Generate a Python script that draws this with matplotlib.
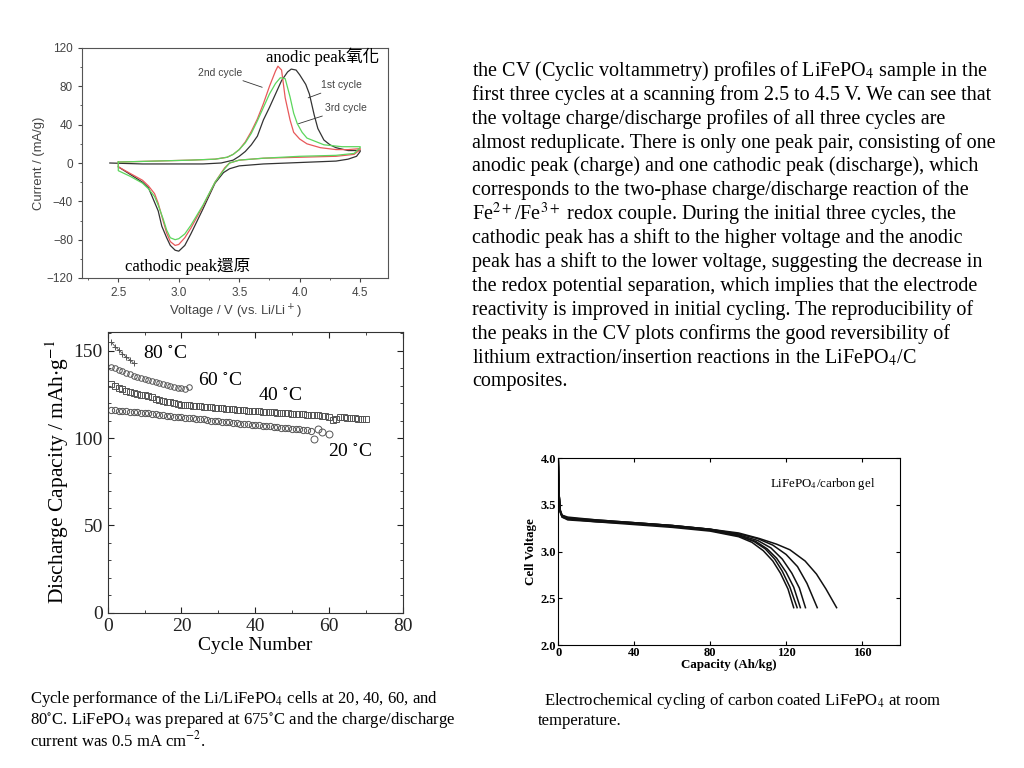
import matplotlib
matplotlib.use('Agg')
import matplotlib.pyplot as plt
from matplotlib.ticker import MultipleLocator

plt.rcParams['font.family'] = ['Liberation Serif', 'Noto Sans CJK TC']
plt.rcParams['mathtext.fontset'] = 'stix'

# ---------------- CV data (Voltage V, Current mA/g) ----------------
cv1_fwd_v = [2.43, 2.7, 3.0, 3.2, 3.35, 3.45, 3.5, 3.55, 3.6, 3.65, 3.7, 3.75, 3.8, 3.85, 3.9,
             3.93, 3.97, 4.0, 4.05, 4.08, 4.12, 4.15, 4.2, 4.25, 4.3, 4.4, 4.5]
cv1_fwd_i = [0, -1, -1, -1, 0, 3, 7, 12, 19, 28, 45, 58, 72, 86, 95,
             98, 97, 92, 82, 72, 50, 36, 24, 19, 16, 13, 13]
cv1_rev_v = [4.5, 4.47, 4.4, 4.3, 4.1, 3.9, 3.7, 3.5, 3.42, 3.37, 3.3, 3.2, 3.1, 3.05, 3.0,
             2.97, 2.93, 2.9, 2.86, 2.83, 2.79, 2.75, 2.7, 2.6, 2.5]
cv1_rev_i = [12, 7, 4, 2, 1, 0, -1, -3, -6, -10, -21, -48, -74, -86, -92,
             -91, -86, -78, -66, -50, -38, -26, -20, -12, -4]

cv2_fwd_v = [2.5, 2.8, 3.1, 3.3, 3.4, 3.45, 3.5, 3.55, 3.6, 3.65, 3.7, 3.75, 3.8, 3.82, 3.85,
             3.88, 3.92, 3.95, 4.0, 4.06, 4.17, 4.3, 4.4, 4.5]
cv2_fwd_i = [1, 2, 3, 4, 6, 9, 14, 22, 33, 46, 62, 80, 96, 101, 97,
             68, 45, 32, 25, 20, 16, 14, 14, 15]
cv2_rev_v = [4.5, 4.45, 4.3, 4.0, 3.7, 3.5, 3.42, 3.38, 3.3, 3.2, 3.1, 3.05, 3.0, 2.97, 2.93,
             2.9, 2.87, 2.83, 2.8, 2.75, 2.7, 2.6, 2.5, 2.5]
cv2_rev_i = [14, 9, 7, 6, 5, 3, 0, -5, -20, -45, -68, -78, -85, -86, -82,
             -73, -60, -42, -32, -24, -18, -11, -4, 1]

cv3_fwd_v = [2.5, 2.8, 3.1, 3.3, 3.4, 3.45, 3.5, 3.55, 3.6, 3.65, 3.7, 3.75, 3.8, 3.84, 3.88,
             3.92, 3.95, 3.98, 4.02, 4.06, 4.2, 4.35, 4.5]
cv3_fwd_i = [1, 2, 3, 4, 6, 9, 14, 21, 31, 44, 58, 72, 83, 89, 88,
             69, 52, 41, 32, 26, 19, 17, 17]
cv3_rev_v = [4.5, 4.45, 4.3, 4.0, 3.7, 3.5, 3.42, 3.38, 3.3, 3.2, 3.1, 3.05, 3.0, 2.97, 2.93,
             2.9, 2.87, 2.83, 2.8, 2.75, 2.7, 2.6, 2.5, 2.5]
cv3_rev_i = [16, 10, 8, 7, 5, 3, 0, -6, -20, -44, -65, -74, -79, -80, -78,
             -70, -58, -44, -35, -27, -21, -14, -8, 1]

# ---------------- cycle performance data ----------------
cap_80 = [155, 152.5, 150.5, 148.5, 146.5, 145, 143]
cap_60 = [141, 140, 139, 138.2, 137.4, 136.6, 135.9, 135.2, 134.5, 133.9, 133.3, 132.7,
          132.1, 131.5, 131, 130.5, 130, 129.5, 129, 128.5, 128, 129.5]
cap_40 = [131, 130, 129, 128, 127, 126.5, 126, 125.5, 125, 124.5,
          124, 123.5, 122.5, 122, 121.5, 121, 120.5, 120, 119.5, 119.2,
          119, 118.8, 118.6, 118.4, 118.2, 118, 117.8, 117.6, 117.4, 117.2,
          117, 116.8, 116.6, 116.5, 116.3, 116.1, 116, 115.8, 115.6, 115.5,
          115.3, 115.2, 115.1, 115, 114.8, 114.6, 114.5, 114.3, 114.2, 114,
          113.8, 113.7, 113.6, 113.5, 113.3, 113.2, 113, 112.8, 112.5, 112.2,
          110.3, 111, 112, 112, 111.8, 111.6, 111.4, 111.2, 111, 110.8]
cap_20 = [116, 116, 115.8, 115.6, 115.4, 115.2, 115, 114.8, 114.6, 114.4,
          114.2, 114, 113.7, 113.4, 113.1, 112.8, 112.5, 112.3, 112.1, 111.9,
          111.7, 111.5, 111.3, 111.1, 110.9, 110.7, 110.4, 110.1, 109.8, 109.6,
          109.4, 109.2, 109, 108.8, 108.5, 108.3, 108.1, 107.9, 107.7, 107.5,
          107.3, 107.1, 106.9, 106.7, 106.5, 106.3, 106.1, 105.8, 105.6, 105.4,
          105.2, 105, 104.8, 104.5, 104.2]
cyc_20_extra = [56, 57, 58, 60]
cap_20_extra = [99.5, 105.5, 103.7, 102.5]

# ---------------- discharge curves (capacity Ah/kg, voltage V) ----------------
dis_cap = [
    [0, 0.4, 1, 2, 5, 20, 40, 60, 80, 95, 102, 108, 113, 117, 121, 124],
    [0, 0.4, 1, 2, 5, 20, 40, 60, 80, 95, 103, 109, 114, 118, 122, 125.8],
    [0, 0.4, 1, 2, 5, 20, 40, 60, 80, 95, 104, 110, 115, 120, 124, 127.5],
    [0, 0.4, 1, 2, 5, 20, 40, 60, 80, 95, 105, 112, 118, 123, 127, 130.2],
    [0, 0.4, 1, 2, 5, 20, 40, 60, 80, 95, 105, 113, 120, 126, 131, 136.4],
    [0, 0.4, 1, 2, 5, 20, 40, 60, 80, 95, 106, 115, 122, 130, 136, 141, 146.6],
]
dis_volt = [
    [3.98, 3.62, 3.42, 3.37, 3.34, 3.32, 3.29, 3.26, 3.22, 3.16, 3.10, 3.01, 2.90, 2.77, 2.60, 2.40],
    [3.98, 3.62, 3.43, 3.38, 3.35, 3.33, 3.30, 3.27, 3.23, 3.17, 3.11, 3.03, 2.92, 2.79, 2.62, 2.40],
    [3.98, 3.62, 3.43, 3.37, 3.35, 3.32, 3.30, 3.27, 3.23, 3.17, 3.11, 3.03, 2.93, 2.78, 2.62, 2.40],
    [3.98, 3.62, 3.44, 3.38, 3.36, 3.33, 3.31, 3.28, 3.24, 3.18, 3.12, 3.04, 2.92, 2.77, 2.61, 2.40],
    [3.98, 3.62, 3.44, 3.39, 3.36, 3.34, 3.31, 3.28, 3.24, 3.19, 3.14, 3.07, 2.97, 2.84, 2.66, 2.40],
    [3.98, 3.62, 3.45, 3.39, 3.37, 3.34, 3.31, 3.28, 3.24, 3.20, 3.14, 3.08, 3.02, 2.90, 2.76, 2.60, 2.40],
]

# ---------------- slide text ----------------
body_lines = [
    'the CV (Cyclic voltammetry) profiles of LiFePO$_4$ sample in the',
    'first three cycles at a scanning from 2.5 to 4.5 V. We can see that',
    'the voltage charge/discharge profiles of all three cycles are',
    'almost reduplicate. There is only one peak pair, consisting of one',
    'anodic peak (charge) and one cathodic peak (discharge), which',
    'corresponds to the two-phase charge/discharge reaction of the',
    'Fe$^{2+}$/Fe$^{3+}$ redox couple. During the initial three cycles, the',
    'cathodic peak has a shift to the higher voltage and the anodic',
    'peak has a shift to the lower voltage, suggesting the decrease in',
    'the redox potential separation, which implies that the electrode',
    'reactivity is improved in initial cycling. The reproducibility of',
    'the peaks in the CV plots confirms the good reversibility of',
    'lithium extraction/insertion reactions in the LiFePO$_4$/C',
    'composites.',
]
caption_left = [
    'Cycle performance of the Li/LiFePO$_4$ cells at 20, 40, 60, and',
    '80$^{\\circ}$C. LiFePO$_4$ was prepared at 675$^{\\circ}$C and the charge/discharge',
    'current was 0.5 mA cm$^{-2}$.',
]
caption_right = [
    ' Electrochemical cycling of carbon coated LiFePO$_4$ at room',
    'temperature.',
]

W, H = 1024, 768
fig = plt.figure(figsize=(10.24, 7.68), dpi=100)
fig.patch.set_facecolor('white')

# ============ CV plot ============
sans = ['Liberation Sans', 'DejaVu Sans']
ax1 = fig.add_axes([82 / W, 1 - 278 / H, 306 / W, 230 / H])
ax1.plot(cv1_fwd_v + cv1_rev_v, cv1_fwd_i + cv1_rev_i, color='#333333', lw=0.9)
ax1.plot(cv2_fwd_v + cv2_rev_v, cv2_fwd_i + cv2_rev_i, color='#e8585a', lw=0.9)
ax1.plot(cv3_fwd_v + cv3_rev_v, cv3_fwd_i + cv3_rev_i, color='#5cd65c', lw=0.9)
ax1.set_xlim(2.2, 4.73)
ax1.set_ylim(-120, 120)
ax1.xaxis.set_major_locator(MultipleLocator(0.5))
ax1.xaxis.set_minor_locator(MultipleLocator(0.25))
ax1.yaxis.set_major_locator(MultipleLocator(40))
ax1.yaxis.set_minor_locator(MultipleLocator(20))
ax1.tick_params(which='both', direction='out', colors='#444444', labelsize=8.5)
ax1.tick_params(which='major', length=3)
ax1.tick_params(which='minor', length=1.5)
for lab in ax1.get_xticklabels() + ax1.get_yticklabels():
    lab.set_family(sans)
for s in ax1.spines.values():
    s.set_color('#555555')
    s.set_linewidth(0.8)
ax1.set_xlabel('Voltage / V (vs. Li/Li$^+$)', family=sans, fontsize=9.4, color='#444444',
               math_fontfamily='dejavusans', labelpad=3)
ax1.set_ylabel('Current / (mA/g)', family=sans, fontsize=9.4, color='#444444', labelpad=1)

ax1.annotate('2nd cycle', xy=(3.69, 79), xytext=(3.16, 94), fontsize=7.5, family=sans,
             color='#444444', va='center',
             arrowprops=dict(arrowstyle='-', color='#333333', lw=0.6, shrinkA=0, shrinkB=0))
ax1.annotate('1st cycle', xy=(4.07, 68), xytext=(4.18, 81), fontsize=7.5, family=sans,
             color='#444444', va='center',
             arrowprops=dict(arrowstyle='-', color='#333333', lw=0.6, shrinkA=0, shrinkB=0))
ax1.annotate('3rd cycle', xy=(3.99, 41), xytext=(4.21, 57), fontsize=7.5, family=sans,
             color='#444444', va='center',
             arrowprops=dict(arrowstyle='-', color='#333333', lw=0.6, shrinkA=0, shrinkB=0))

fig.text(266 / W, 1 - 57 / H, 'anodic peak氧化', fontsize=12, va='center', ha='left')
fig.text(125 / W, 1 - 266 / H, 'cathodic peak還原', fontsize=12, va='center', ha='left')

# ============ cycle performance ============
ax2 = fig.add_axes([107.7 / W, 1 - 612.7 / H, 295 / W, 281 / H])
mk = dict(color='#555555', mfc='none', mew=0.7)
ax2.plot(range(1, len(cap_80) + 1), cap_80, '-+', lw=0.6, ms=5, **mk)
ax2.plot(range(1, len(cap_60) + 1), cap_60, 'o', ms=4, ls='none', **mk)
ax2.plot(range(1, len(cap_40) + 1), cap_40, 's', ms=4.5, ls='none', **mk)
ax2.plot(range(1, len(cap_20) + 1), cap_20, 'o', ms=4.5, ls='none', **mk)
ax2.plot(cyc_20_extra, cap_20_extra, 'o', ms=5, ls='none', **mk)
ax2.set_xlim(0, 80)
ax2.set_ylim(0, 161)
ax2.xaxis.set_major_locator(MultipleLocator(20))
ax2.xaxis.set_minor_locator(MultipleLocator(10))
ax2.yaxis.set_major_locator(MultipleLocator(50))
ax2.yaxis.set_minor_locator(MultipleLocator(10))
ax2.tick_params(which='both', direction='in', top=True, right=True, labelsize=14,
                colors='#222222')
ax2.tick_params(which='major', length=4)
ax2.tick_params(which='minor', length=2.5)
for s in ax2.spines.values():
    s.set_color('#333333')
ax2.set_xlabel('Cycle Number', fontsize=14, labelpad=2)
ax2.set_ylabel('Discharge Capacity / mAh$\\cdot$g$^{-1}$', fontsize=15.5, labelpad=2)
ax2.text(9.6, 148.7, '80 $^{\\circ}$C', fontsize=14, va='center')
ax2.text(24.6, 133.3, '60 $^{\\circ}$C', fontsize=14, va='center')
ax2.text(40.8, 124.7, '40 $^{\\circ}$C', fontsize=14, va='center')
ax2.text(59.8, 92.2, '20 $^{\\circ}$C', fontsize=14, va='center')

# ============ discharge curves ============
ax3 = fig.add_axes([558.3 / W, 1 - 645 / H, 341.7 / W, 186.7 / H])
for c, v in zip(dis_cap, dis_volt):
    ax3.plot(c, v, color='#111111', lw=1.1)
ax3.set_xlim(0, 180)
ax3.set_ylim(2.0, 4.0)
ax3.xaxis.set_major_locator(MultipleLocator(40))
ax3.yaxis.set_major_locator(MultipleLocator(0.5))
ax3.yaxis.set_major_formatter(matplotlib.ticker.FormatStrFormatter('%.1f'))
ax3.tick_params(direction='in', top=True, right=True, labelsize=9, length=3, pad=1.5)
for lab in ax3.get_xticklabels() + ax3.get_yticklabels():
    lab.set_fontweight('bold')
ax3.set_xlabel('Capacity (Ah/kg)', fontsize=9.4, fontweight='bold', labelpad=0)
ax3.set_ylabel('Cell Voltage', fontsize=9.4, fontweight='bold', labelpad=3)
ax3.text(0.62, 0.86, 'LiFePO$_4$/carbon gel', transform=ax3.transAxes, fontsize=9.3,
         va='center')

# ============ slide text ============
for k, line in enumerate(body_lines):
    fig.text(472 / W, 1 - (71 + 23.9 * k) / H, line, fontsize=14.5, va='center', ha='left')
for k, line in enumerate(caption_left):
    fig.text(30 / W, 1 - (699 + 20.5 * k) / H, line, fontsize=12, va='center', ha='left')
for k, line in enumerate(caption_right):
    fig.text((540 if k == 0 else 538) / W, 1 - (701 + 20 * k) / H, line, fontsize=12,
             va='center', ha='left')

fig.savefig('out.png', dpi=100)
